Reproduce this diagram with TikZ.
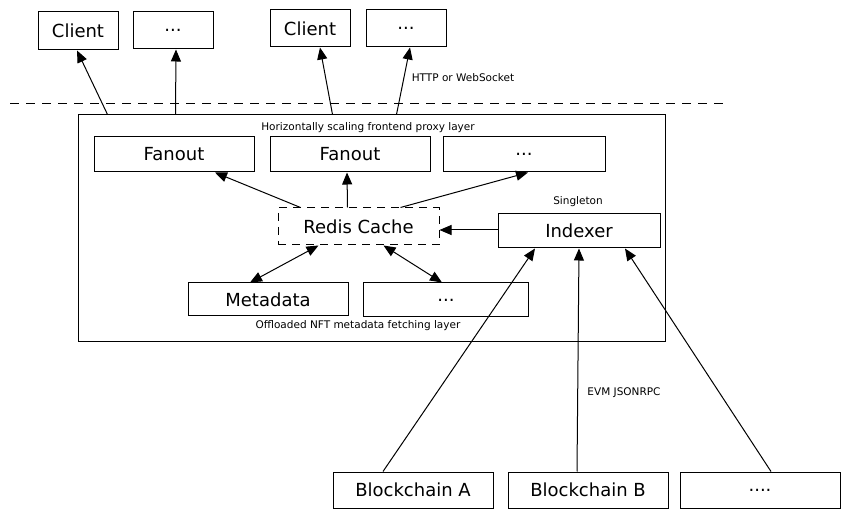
\documentclass[tikz,border=0pt]{standalone}
\usepackage{fontspec}
\setmainfont{DejaVu Sans}
\usetikzlibrary{arrows.meta}
\begin{document}
\begin{tikzpicture}[x=1pt,y=-1pt,
  box/.style={draw,line width=1pt,minimum height=35pt,inner sep=0pt,font=\fontsize{18}{20}\selectfont},
  dbox/.style={box,dashed,dash pattern=on 8pt off 6pt},
  arr/.style={line width=1pt,-{Triangle[length=12pt,width=10pt]}},
  darr/.style={line width=1pt,{Triangle[length=12pt,width=10pt]}-{Triangle[length=12pt,width=10pt]}},
  lbl/.style={font=\fontsize{10.5}{12}\selectfont,inner sep=0pt}]
\useasboundingbox[fill=white] (0,0) rectangle (849,518);
% top clients
\node[box,minimum width=80pt,minimum height=38pt] (c1) at (78,31) {Client};
\node[box,minimum width=80pt,minimum height=37pt] (d1) at (173,30.5) {...};
\node[box,minimum width=80pt,minimum height=37pt] (c2) at (310,28.5) {Client};
\node[box,minimum width=80pt,minimum height=37pt] (d2) at (406,28.5) {...};
% dashed boundary
\coordinate (dl) at (10,104);
\coordinate (dr) at (730,104);
\draw[line width=1pt,dash pattern=on 9pt off 7pt] (dl) -- (dr);
% outer layer box
\node[draw,line width=1pt,minimum width=587pt,minimum height=227pt,inner sep=0pt] (outer) at (371.5,228.5) {};
\node[lbl] (hlbl) at (368,128) {Horizontally scaling frontend proxy layer};
\node[lbl] (olbl) at (358,326) {Offloaded NFT metadata fetching layer};
% fanouts
\node[box,minimum width=160pt] (f1) at (174,154.5) {Fanout};
\node[box,minimum width=160pt] (f2) at (350,154.5) {Fanout};
\node[box,minimum width=162pt] (d3) at (524,154.5) {...};
% redis and indexer
\node[dbox,minimum width=161pt,minimum height=37pt] (redis) at (358.5,226.5) {Redis Cache};
\node[box,minimum width=162pt,minimum height=34pt] (idx) at (579,231) {Indexer};
\node[lbl] (single) at (578,202) {Singleton};
% metadata
\node[box,minimum width=160pt,minimum height=33pt] (meta) at (268,299.5) {Metadata};
\node[box,minimum width=165pt,minimum height=34pt] (d4) at (446,300) {...};
% blockchains
\node[box,minimum width=160pt,minimum height=36pt] (ba) at (413,490) {Blockchain A};
\node[box,minimum width=160pt,minimum height=36pt] (bb) at (588,490) {Blockchain B};
\node[box,minimum width=160pt,minimum height=36pt] (d5) at (760,490) {....};
\node[lbl] (evm) at (624,393) {EVM JSONRPC};
\node[lbl] (http) at (463,78) {HTTP or WebSocket};
% arrows to clients
\draw[arr] ([xshift=30pt]outer.north west) -- ([xshift=-1pt]c1.south);
\draw[arr] ([xshift=98pt]outer.north west) -- ([xshift=3pt]d1.south);
\draw[arr] ([xshift=255pt]outer.north west) -- ([xshift=10pt]c2.south);
\draw[arr] ([xshift=319pt]outer.north west) -- ([xshift=4pt]d2.south);
% redis to fanouts
\draw[arr] ([xshift=-58pt]redis.north) -- ([xshift=41pt]f1.south);
\draw[arr] ([xshift=-11pt]redis.north) -- ([xshift=-3pt]f2.south);
\draw[arr] ([xshift=42pt]redis.north) -- ([xshift=4pt]d3.south);
% indexer to redis
\draw[arr] ([yshift=1pt]idx.west) -- ([yshift=1pt]idx.west -| redis.east);
% redis <-> metadata
\draw[darr] ([xshift=-18pt]meta.north) -- ([xshift=-40pt]redis.south);
\draw[darr] ([xshift=25pt]redis.south) -- ([xshift=-4pt]d4.north);
% blockchains to indexer
\draw[arr] ([xshift=-30pt]ba.north) -- ([xshift=-44pt]idx.south);
\draw[arr] ([xshift=-11pt]bb.north) -- (idx.south);
\draw[arr] ([xshift=11pt]d5.north) -- ([xshift=46pt]idx.south);
\end{tikzpicture}
\end{document}
